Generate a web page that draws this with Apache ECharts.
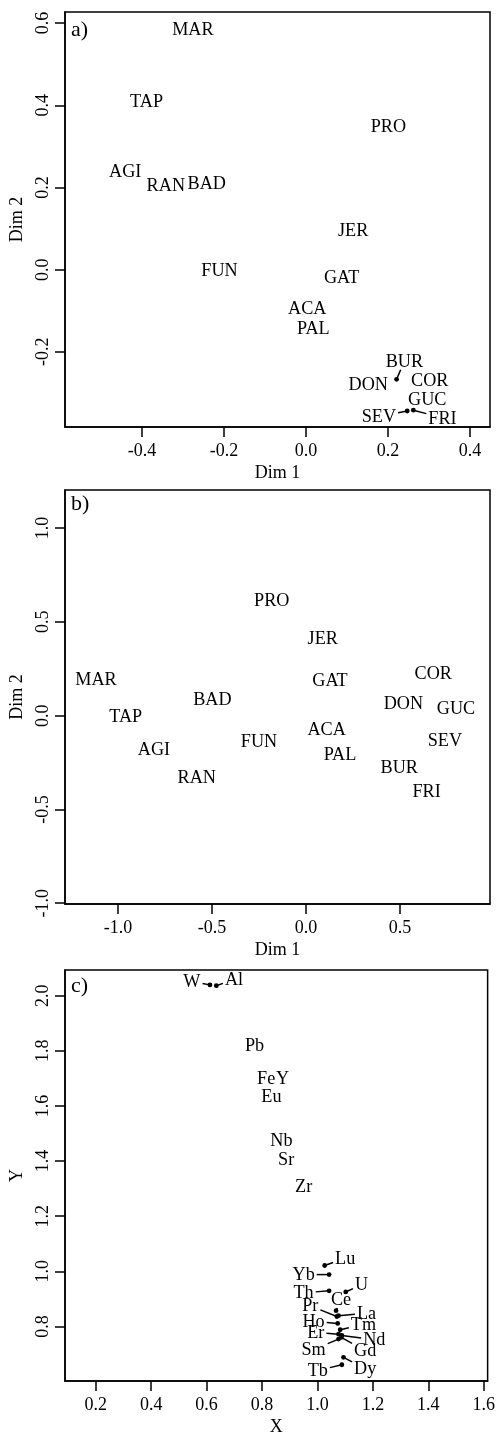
<!DOCTYPE html>
<html><head><meta charset="utf-8">
<script src="https://cdn.jsdelivr.net/npm/echarts@6/dist/echarts.min.js"></script>
<style>html,body{margin:0;padding:0;background:#fff}#c{width:498px;height:1437px}</style>
</head><body><div id="c"></div>
<script>
// ---------- Panel a ----------
const aNames = ['MAR','TAP','PRO','AGI','RAN','BAD','JER','FUN','GAT','ACA','PAL','BUR','DON','COR','GUC','SEV','FRI'];
const aDim1 = [-0.276,-0.389,0.201,-0.441,-0.342,-0.242,0.115,-0.211,0.087,0.003,0.018,0.221,0.152,0.302,0.296,0.247,0.262];
const aDim2 = [0.585,0.410,0.349,0.240,0.205,0.211,0.096,-0.003,-0.018,-0.095,-0.144,-0.267,-0.280,-0.269,-0.316,-0.344,-0.342];
// label positions for labels moved away from their point (null = label sits on the point)
const aLabelDim1 = [null,null,null,null,null,null,null,null,null,null,null,0.240,null,null,null,0.178,0.333];
const aLabelDim2 = [null,null,null,null,null,null,null,null,null,null,null,-0.223,null,null,null,-0.357,-0.361];
const aXTicks = [-0.4,-0.2,0.0,0.2,0.4];
const aYTicks = [-0.2,0.0,0.2,0.4,0.6];

// ---------- Panel b ----------
const bNames = ['PRO','JER','MAR','GAT','COR','BAD','DON','GUC','TAP','ACA','SEV','FUN','AGI','PAL','BUR','RAN','FRI'];
const bDim1 = [-0.182,0.089,-1.117,0.128,0.677,-0.498,0.518,0.798,-0.959,0.110,0.739,-0.250,-0.809,0.181,0.496,-0.581,0.642];
const bDim2 = [0.613,0.412,0.194,0.187,0.226,0.089,0.066,0.036,-0.005,-0.073,-0.133,-0.139,-0.178,-0.209,-0.275,-0.328,-0.405];
const bXTicks = [-1.0,-0.5,0.0,0.5];
const bYTicks = [-1.0,-0.5,0.0,0.5,1.0];

// ---------- Panel c ----------
const cNames = ['W','Al','Pb','Fe','Y','Eu','Nb','Sr','Zr','Lu','Yb','U','Th','Ce','Pr','La','Ho','Tm','Er','Nd','Sm','Gd','Dy','Tb'];
const cX = [0.612,0.635,0.773,0.815,0.874,0.834,0.870,0.887,0.950,1.026,1.042,1.102,1.042,1.067,1.070,1.076,1.073,1.082,1.076,1.088,1.076,1.086,1.094,1.088];
const cY = [2.039,2.036,1.819,1.699,1.699,1.633,1.474,1.405,1.309,1.021,0.988,0.925,0.929,0.857,0.836,0.839,0.811,0.788,0.772,0.767,0.754,0.760,0.688,0.661];
const cLabelX = [0.547,0.699,null,null,null,null,null,null,null,1.100,0.950,1.159,0.950,1.085,0.974,1.177,0.986,1.166,0.994,1.205,0.986,1.172,1.172,1.001];
const cLabelY = [2.051,2.059,null,null,null,null,null,null,null,1.048,0.988,0.952,0.922,0.898,0.875,0.848,0.818,0.808,0.778,0.752,0.716,0.712,0.646,0.640];
const cXTicks = [0.2,0.4,0.6,0.8,1.0,1.2,1.4,1.6];
const cYTicks = [0.8,1.0,1.2,1.4,1.6,1.8,2.0];

const FAMILY = '"Liberation Serif","Times New Roman",serif';
const FS = 18.2;
const AFS = 18;
const FONT = FS + 'px ' + FAMILY;
const mctx = document.createElement('canvas').getContext('2d');
mctx.font = FONT;
function tw(t){ return mctx.measureText(t).width; }

function buildData(xs, ys, lxs, lys){
  return xs.map((x,i)=>[x, ys[i], lxs && lxs[i]!=null ? lxs[i] : x, lys && lys[i]!=null ? lys[i] : ys[i]]);
}

function makeRender(names){
  return function(params, api){
    const i = params.dataIndex;
    const P = api.coord([api.value(0), api.value(1)]);
    const L = api.coord([api.value(2), api.value(3)]);
    const children = [];
    const moved = Math.abs(P[0]-L[0])>0.5 || Math.abs(P[1]-L[1])>0.5;
    if (moved){
      const hw = tw(names[i])/2 + 2, hh = FS*0.36 + 2;
      const dx = P[0]-L[0], dy = P[1]-L[1];
      const t = Math.min(dx!==0 ? hw/Math.abs(dx) : Infinity, dy!==0 ? hh/Math.abs(dy) : Infinity);
      if (t < 1){
        children.push({type:'line', shape:{x1:P[0], y1:P[1], x2:L[0]+dx*t, y2:L[1]+dy*t},
          style:{stroke:'#000', lineWidth:1.5}});
      }
      children.push({type:'circle', shape:{cx:P[0], cy:P[1], r:2.4}, style:{fill:'#000'}});
    }
    children.push({type:'text', x:L[0], y:L[1]+0.8, style:{text:names[i], font:FONT, fill:'#000',
      align:'center', verticalAlign:'middle', textAlign:'center', textVerticalAlign:'middle'}});
    return {type:'group', children};
  };
}

const grids = [
  {left:65, top:12, width:425, height:415},
  {left:65, top:490, width:425, height:414},
  {left:65, top:970, width:425, height:414}
].map(g=>Object.assign({show:true, borderColor:'#000', borderWidth:1.5, backgroundColor:'transparent'}, g));

function fmt(v){ return v.toFixed(1); }
function xAx(idx, min, max, ticks, name){
  return {type:'value', gridIndex:idx, min, max, position:'bottom',
    name, nameLocation:'middle', nameGap:37, nameTextStyle:{fontFamily:FAMILY, fontSize:AFS, color:'#000'},
    axisLine:{show:true, onZero:false, lineStyle:{color:'#000', width:1.5}},
    axisTick:{show:true, inside:false, length:10, customValues:ticks, lineStyle:{color:'#000', width:1.5}},
    axisLabel:{customValues:ticks, formatter:fmt, margin:15, fontFamily:FAMILY, fontSize:AFS, color:'#000'},
    splitLine:{show:false}};
}
function yAx(idx, min, max, ticks, name){
  return {type:'value', gridIndex:idx, min, max, position:'left',
    name, nameLocation:'middle', nameGap:33, nameRotate:90, nameTextStyle:{fontFamily:FAMILY, fontSize:AFS, color:'#000'},
    axisLine:{show:true, onZero:false, lineStyle:{color:'#000', width:1.5}},
    axisTick:{show:true, inside:false, length:10, customValues:ticks, lineStyle:{color:'#000', width:1.5}},
    axisLabel:{customValues:ticks, formatter:fmt, rotate:90, margin:13, fontFamily:FAMILY, fontSize:AFS, color:'#000'},
    splitLine:{show:false}};
}

const option = {
  animation:false,
  backgroundColor:'#fff',
  grid: grids,
  xAxis: [
    xAx(0, -0.588, 0.449, aXTicks, 'Dim 1'),
    xAx(1, -1.282, 0.979, bXTicks, 'Dim 1'),
    xAx(2, 0.089, 1.614, cXTicks, 'X')
  ],
  yAxis: [
    yAx(0, -0.383, 0.627, aYTicks, 'Dim 2'),
    yAx(1, -1.004, 1.203, bYTicks, 'Dim 2'),
    yAx(2, 0.602, 2.093, cYTicks, 'Y')
  ],
  series: [
    {type:'custom', xAxisIndex:0, yAxisIndex:0, clip:false, data:buildData(aDim1,aDim2,aLabelDim1,aLabelDim2), renderItem:makeRender(aNames)},
    {type:'custom', xAxisIndex:1, yAxisIndex:1, clip:false, data:buildData(bDim1,bDim2,null,null), renderItem:makeRender(bNames)},
    {type:'custom', xAxisIndex:2, yAxisIndex:2, clip:false, data:buildData(cX,cY,cLabelX,cLabelY), renderItem:makeRender(cNames)}
  ],
  graphic: [
    {type:'text', left:71, top:19, style:{text:'a)', font:'22px '+FAMILY, fill:'#000'}},
    {type:'text', left:71, top:493, style:{text:'b)', font:'22px '+FAMILY, fill:'#000'}},
    {type:'text', left:71, top:975, style:{text:'c)', font:'22px '+FAMILY, fill:'#000'}}
  ]
};
const chart = echarts.init(document.getElementById('c'), null, {renderer:'canvas'});
chart.setOption(option);
</script></body></html>
